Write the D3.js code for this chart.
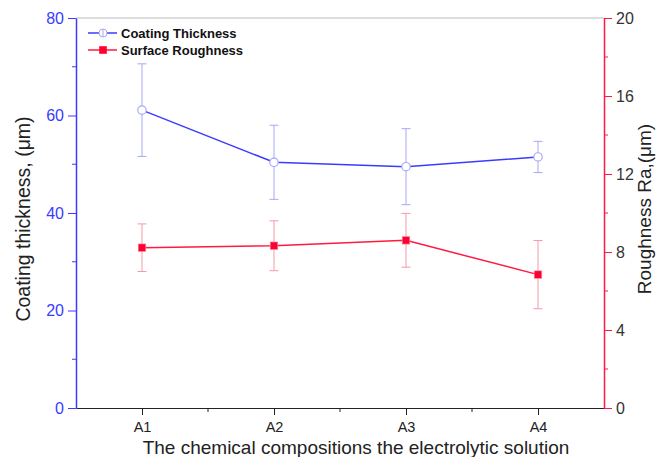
<!DOCTYPE html>
<html>
<head>
<meta charset="utf-8">
<script src="https://cdn.jsdelivr.net/npm/d3@7"></script>
<style>
  body { margin: 0; background: #fff; }
  svg { font-family: "Liberation Sans", Arial, sans-serif; }
</style>
</head>
<body>
<svg></svg>
<script>
const width = 671;
const height = 457;

const categories = ['A1', 'A2', 'A3', 'A4'];
const thickness = [61.1, 50.4, 49.5, 51.5];
const thicknessErr = [9.5, 7.6, 7.8, 3.2];
const roughness = [8.22, 8.32, 8.6, 6.84];
const roughnessErr = [1.22, 1.28, 1.38, 1.75];
const leftTicks = [0, 20, 40, 60, 80];
const rightTicks = [0, 4, 8, 12, 16, 20];

const blue = '#3b3bff';
const blueLight = '#a8a8f6';
const red = '#ff1a40';
const redLight = '#f59aa8';

const margin = { top: 18, right: 67, bottom: 49, left: 76 };
const innerW = width - margin.left - margin.right;
const innerH = height - margin.top - margin.bottom;

const svg = d3.select('svg')
	.attr('width', width)
	.attr('height', height);

const x = d3.scaleLinear().domain([0.5, 4.5]).range([0, innerW]);
const yL = d3.scaleLinear().domain([0, 80]).range([innerH, 0]);
const yR = d3.scaleLinear().domain([0, 20]).range([innerH, 0]);

const g = svg.append('g')
	.attr('transform', `translate(${margin.left},${margin.top})`);

// top frame line
g.append('line')
	.attr('x1', 0).attr('x2', innerW)
	.attr('y1', 0).attr('y2', 0)
	.attr('stroke', '#bbb');

// bottom axis
const xAxis = g.append('g')
	.attr('transform', `translate(0,${innerH})`)
	.call(d3.axisBottom(x)
		.tickValues([1, 2, 3, 4])
		.tickFormat((d, i) => categories[i])
		.tickSize(7)
		.tickSizeOuter(0)
		.tickPadding(7));
xAxis.selectAll('line').attr('stroke', '#222');
xAxis.select('.domain').attr('stroke', '#222');
xAxis.selectAll('text').attr('fill', '#222').attr('font-size', 14.5);
xAxis.selectAll('.minor').data([1.5, 2.5, 3.5]).enter().append('line')
	.attr('x1', d => x(d)).attr('x2', d => x(d))
	.attr('y1', 0).attr('y2', 4)
	.attr('stroke', '#222');

// left axis
const leftAxis = g.append('g')
	.call(d3.axisLeft(yL)
		.tickValues(leftTicks)
		.tickSize(8)
		.tickSizeOuter(0)
		.tickPadding(4));
leftAxis.selectAll('line').attr('stroke', blue);
leftAxis.select('.domain').attr('stroke', blue).attr('stroke-width', 1.5);
leftAxis.selectAll('text').attr('fill', blue).attr('font-size', 16);
leftAxis.selectAll('.minor').data([10, 30, 50, 70]).enter().append('line')
	.attr('x1', -4).attr('x2', 0)
	.attr('y1', d => yL(d)).attr('y2', d => yL(d))
	.attr('stroke', blue);

// right axis
const rightAxis = g.append('g')
	.attr('transform', `translate(${innerW},0)`)
	.call(d3.axisRight(yR)
		.tickValues(rightTicks)
		.tickSize(8)
		.tickSizeOuter(0)
		.tickPadding(4));
rightAxis.selectAll('line').attr('stroke', red);
rightAxis.select('.domain').attr('stroke', red).attr('stroke-width', 1.5);
rightAxis.selectAll('text').attr('fill', '#333').attr('font-size', 16);
rightAxis.selectAll('.minor').data([2, 6, 10, 14, 18]).enter().append('line')
	.attr('x1', 0).attr('x2', 4)
	.attr('y1', d => yR(d)).attr('y2', d => yR(d))
	.attr('stroke', red);

// axis titles
svg.append('text')
	.attr('transform', 'translate(30,219) rotate(-90)')
	.attr('text-anchor', 'middle')
	.attr('font-size', 19.5)
	.attr('fill', '#222')
	.text('Coating thickness, (\u03bcm)');
svg.append('text')
	.attr('transform', 'translate(651,209) rotate(-90)')
	.attr('text-anchor', 'middle')
	.attr('font-size', 19)
	.attr('fill', '#222')
	.text('Roughness Ra,(\u03bcm)');
svg.append('text')
	.attr('x', 356)
	.attr('y', 454)
	.attr('text-anchor', 'middle')
	.attr('font-size', 19)
	.attr('fill', '#222')
	.text('The chemical compositions the electrolytic solution');

function errorBars(sel, values, errs, y, color) {
	const cap = 4.5;
	const bars = sel.append('g').selectAll('g').data(values).enter().append('g');
	bars.append('line')
		.attr('x1', (d, i) => x(i + 1)).attr('x2', (d, i) => x(i + 1))
		.attr('y1', (d, i) => y(d + errs[i])).attr('y2', (d, i) => y(d - errs[i]))
		.attr('stroke', color);
	bars.append('line')
		.attr('x1', (d, i) => x(i + 1) - cap).attr('x2', (d, i) => x(i + 1) + cap)
		.attr('y1', (d, i) => y(d + errs[i])).attr('y2', (d, i) => y(d + errs[i]))
		.attr('stroke', color);
	bars.append('line')
		.attr('x1', (d, i) => x(i + 1) - cap).attr('x2', (d, i) => x(i + 1) + cap)
		.attr('y1', (d, i) => y(d - errs[i])).attr('y2', (d, i) => y(d - errs[i]))
		.attr('stroke', color);
}

errorBars(g, thickness, thicknessErr, yL, blueLight);
errorBars(g, roughness, roughnessErr, yR, redLight);

const lineL = d3.line().x((d, i) => x(i + 1)).y(d => yL(d));
const lineR = d3.line().x((d, i) => x(i + 1)).y(d => yR(d));

g.append('path')
	.datum(thickness)
	.attr('d', lineL)
	.attr('fill', 'none')
	.attr('stroke', blue)
	.attr('stroke-width', 1.5);
g.append('path')
	.datum(roughness)
	.attr('d', lineR)
	.attr('fill', 'none')
	.attr('stroke', red)
	.attr('stroke-width', 1.5);

g.selectAll('.pt-l').data(thickness).enter().append('circle')
	.attr('cx', (d, i) => x(i + 1))
	.attr('cy', d => yL(d))
	.attr('r', 4.2)
	.attr('fill', '#fff')
	.attr('stroke', blueLight)
	.attr('stroke-width', 1.2);

g.selectAll('.pt-r').data(roughness).enter().append('rect')
	.attr('x', (d, i) => x(i + 1) - 3.8)
	.attr('y', d => yR(d) - 3.8)
	.attr('width', 7.6)
	.attr('height', 7.6)
	.attr('fill', '#ff0030')
	.attr('stroke', redLight)
	.attr('stroke-width', 0.6);

// legend
const legend = svg.append('g').attr('transform', 'translate(88,33)');
const legendItems = [
	{ label: 'Coating Thickness', color: blue, marker: 'circle' },
	{ label: 'Surface Roughness', color: red, marker: 'square' }
];
const items = legend.selectAll('g').data(legendItems).enter().append('g')
	.attr('transform', (d, i) => `translate(0,${i * 17})`);
items.append('line')
	.attr('x1', 0).attr('x2', 29)
	.attr('stroke', d => d.color)
	.attr('stroke-width', 1.5);
items.filter(d => d.marker === 'circle').append('circle')
	.attr('cx', 15).attr('r', 4)
	.attr('fill', '#fff')
	.attr('stroke', blueLight);
items.filter(d => d.marker === 'circle').append('line')
	.attr('x1', 15).attr('x2', 15).attr('y1', -4).attr('y2', 4)
	.attr('stroke', blueLight);
items.filter(d => d.marker === 'square').append('rect')
	.attr('x', 11.2).attr('y', -3.8)
	.attr('width', 7.6).attr('height', 7.6)
	.attr('fill', '#ff0030');
items.append('text')
	.attr('x', 33)
	.attr('dy', '0.35em')
	.attr('font-size', 13)
	.attr('font-weight', 'bold')
	.attr('fill', '#111')
	.text(d => d.label);
</script>
</body>
</html>
